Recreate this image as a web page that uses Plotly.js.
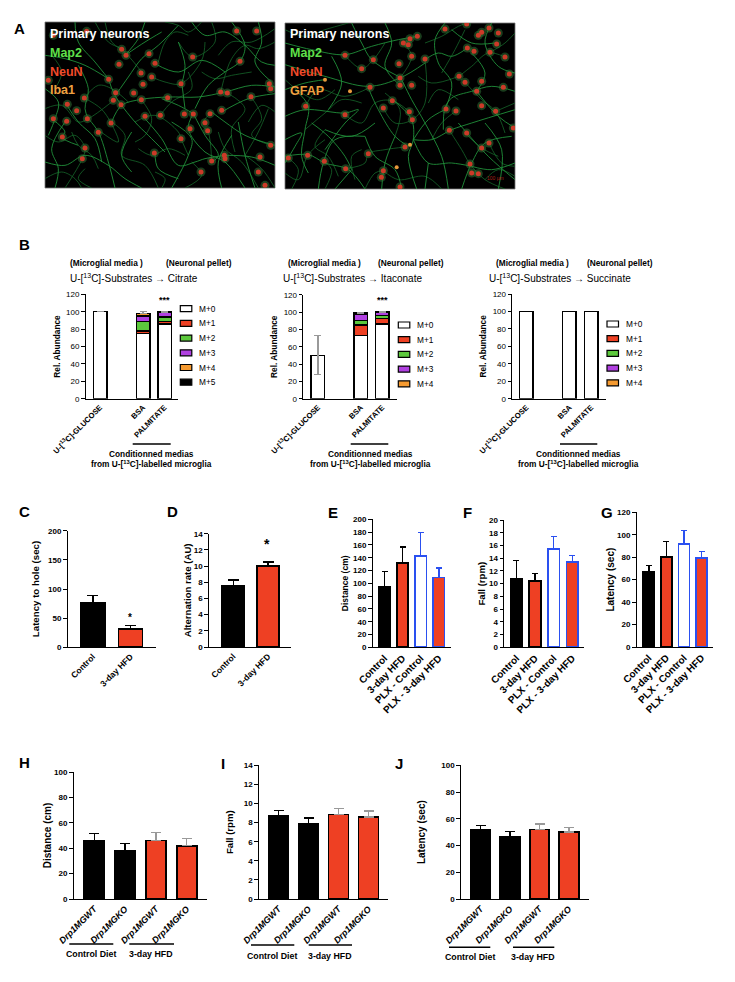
<!DOCTYPE html>
<html>
<head>
<meta charset="utf-8">
<script src="https://cdn.plot.ly/plotly-3.0.1.min.js"></script>
<style>
body { margin: 0; background: white; }
/* scatter traces only exist in the two micrographs: soften them a little */
.scatterlayer { filter: blur(0.6px); }
</style>
</head>
<body>
<div id="figure" style="width:735px;height:982px"></div>
<script>
// --- data ---
// panel A: cell bodies and traced neurites, in image coordinates (690 x 498)
var cellsLeftX = [575,635,230,243,312,443,585,222,330,288,320,191,408,294,10,212,266,527,547,673,677,118,368,205,289,618,228,67,95,530,495,418,445,346,25,127,300,480,65,198,488,435,160,52,408,120,677,328,112,538,500,540,468,640,645,660,125,25];
var cellsLeftY = [27,27,82,100,95,105,118,127,124,153,165,172,185,187,175,212,213,210,213,185,200,228,227,235,233,224,248,247,266,265,275,276,276,280,290,290,283,302,298,303,326,320,331,345,350,378,370,393,410,400,417,410,450,450,405,490,28,40];
var cellsRightX = [480,545,590,612,640,580,375,397,355,370,635,547,567,615,180,380,420,660,265,342,230,673,522,345,540,590,345,380,255,575,655,322,590,295,483,513,632,62,373,180,382,685,493,612,360,68,10,118,555,182,295,560,580,289,345,250,590,545];
var cellsRightY = [18,3,28,15,30,37,47,40,60,65,63,75,85,88,97,100,108,102,110,122,137,153,160,165,178,175,187,187,193,205,193,233,248,255,258,264,265,250,266,275,290,315,322,360,372,397,405,415,423,437,443,450,452,463,492,392,375,330];
var gfapCellsX = [195,120,335,375];
var gfapCellsY = [205,170,433,365];
var neuritesLeft = [
  [400,10,340,70,290,110,250,165,215,215],
  [440,0,480,40,540,30,600,70,650,120,690,130],
  [560,0,600,70,585,118,540,150,490,190,450,260],
  [690,195,620,190,540,210,460,225,370,225,290,232,230,250,200,300],
  [445,275,480,340,520,400,500,420],
  [445,275,400,250,350,230],
  [300,290,350,350,400,430,450,420,480,410,540,400],
  [0,420,60,430,120,400,190,430,240,470,290,498],
  [130,290,160,330,190,420,210,498],
  [60,240,100,300,150,350,170,420],
  [330,390,340,440,400,470],
  [20,290,60,330,50,345,100,370],
  [445,275,430,320,480,390,540,420,600,498],
  [500,270,540,300,600,340,690,370],
  [540,400,620,405,690,430],
  [410,180,420,260],
  [190,170,150,120,100,60,90,0],
  [190,170,210,220,270,300,310,340,360,390],
  [240,100,300,60,350,30],
  [330,125,400,150,470,115,540,150],
  [580,300,600,400,630,498],
  [530,270,610,230,690,215],
  [400,60,420,130,410,185],
  [0,200,40,240,30,290,10,340],
  [60,300,20,380,40,440,30,498],
  [100,130,130,200,120,260,130,290],
  [260,330,230,400,260,450],
  [640,0,650,60,630,120,680,180],
  [300,0,280,50,240,100],
  [0,100,60,110,120,130,190,170],
  [560,340,520,420,530,498],
  [380,300,440,350,430,400,380,498]
];
var faintLeft = [
  [150,0,190,60,230,82,290,150],
  [0,260,50,250,100,300,130,290,200,240],
  [0,340,40,360,90,340,120,378,112,410,60,498],
  [120,440,100,470,140,498],
  [200,300,240,340,230,400,300,430,340,498],
  [270,300,330,280,400,330,408,350,430,400],
  [320,165,360,180,408,185,470,115,480,60],
  [500,0,510,60,443,105,400,60],
  [690,60,640,80,600,70,560,110,527,210],
  [618,224,650,290,620,340,680,370],
  [495,275,470,310,488,326,500,417],
  [600,400,650,440,690,498],
  [547,213,600,260,560,320,570,390],
  [440,420,470,460,420,498],
  [168,330,220,360,198,303,168,260,118,228],
  [289,233,320,290,300,340,270,360],
  [346,280,380,240,440,200,430,150],
  [230,82,200,60,180,0],
  [20,100,50,150,30,200],
  [470,0,430,30,400,10,360,0],
  [670,260,640,330,600,400],
  [250,240,200,200,160,190,118,228],
  [520,330,540,380,590,420,640,498],
  [340,120,360,60,390,30,430,40],
  [0,470,50,450,90,470,110,498],
  [160,440,140,400,100,370,80,330],
  [280,380,320,400,370,380,420,400],
  [520,100,560,60,620,60,690,20],
  [470,150,510,170,560,160,620,150],
  [610,300,650,250,690,270],
  [330,450,360,470,350,498]
];
var neuritesRight = [
  [690,205,620,190,560,205,500,225,480,255,475,320],
  [480,0,450,50,460,120,500,180,480,260],
  [420,110,460,90,500,100,540,80],
  [0,125,120,160,250,190,345,165,420,120],
  [0,280,60,260,180,270,220,260,180,300,120,380],
  [0,350,50,330,30,370,0,420],
  [330,235,380,290,385,350,370,400,395,498],
  [250,195,280,260,330,340,370,370],
  [480,260,430,290,385,350],
  [690,260,560,300,500,320,440,350,385,350],
  [680,340,600,360,560,420,530,498],
  [0,400,70,395,120,420,190,440,240,498],
  [240,340,270,400,330,440,350,498],
  [80,300,130,340,180,400,200,440],
  [350,170,380,230,420,300,470,400,490,498],
  [200,0,230,60,260,110,340,160],
  [575,205,640,280,690,315],
  [560,90,600,150,575,205],
  [30,200,70,250,60,320,50,400,70,450],
  [270,300,200,340,120,320],
  [0,60,80,80,180,95,260,70,340,50,400,40],
  [520,300,610,400,690,470],
  [385,350,430,420,500,420,560,430],
  [100,498,115,420,150,350,240,340],
  [620,0,600,60,640,130,690,150],
  [300,0,320,60,300,130,345,187],
  [500,20,560,60,630,60],
  [560,430,620,440,690,420],
  [140,100,170,180,130,260],
  [430,420,420,498],
  [600,300,650,380,640,498],
  [0,200,60,180,120,170],
  [200,440,150,498],
  [330,340,300,420,290,498]
];
var faintRight = [
  [0,20,60,40,120,20,190,0],
  [62,250,100,200,180,220,255,193],
  [0,450,40,470,68,397,120,350],
  [120,498,140,440,118,415],
  [180,275,230,300,270,240,322,233,373,266],
  [295,255,330,300,382,290,420,240,420,108],
  [522,160,560,130,610,90,660,102],
  [540,178,590,230,632,265,660,330],
  [632,265,690,240],
  [493,322,530,380,555,423,600,470,660,498],
  [440,350,470,300,513,264],
  [612,360,650,420,690,430],
  [355,60,380,100,345,165],
  [180,97,230,137,265,110,300,60],
  [10,405,40,440,20,498],
  [182,437,240,420,250,392,300,380,360,372],
  [295,443,340,470,420,460,470,498],
  [60,320,120,270,170,230,230,240],
  [420,60,470,40,520,10,545,0],
  [615,88,660,60,690,30],
  [400,160,440,180,522,160],
  [300,210,345,260,330,340],
  [540,330,590,375,640,400],
  [240,498,270,450,295,443],
  [0,170,50,210,100,230,150,200],
  [120,320,90,370,130,400,160,460],
  [430,240,460,200,520,230],
  [600,470,640,440,690,460],
  [230,380,200,400,210,470],
  [540,20,510,80,470,150]
];

// panel B: stacked isotopologue fractions for U-13C glucose, BSA, palmitate
var isotopeLabels = ['M+0','M+1','M+2','M+3','M+4','M+5'];
var mediaLabels = ['U-[<sup>13</sup>C]-GLUCOSE','BSA','PALMITATE'];
var citrateM = [[100,75,86],[0,3,2.5],[0,11,5.5],[0,6,5],[0,2.7,0.4],[0,0.3,0.2]];
var citrateErr = [0.4,2.3,0.4];
var itaconateM = [[50,73,86],[0,12,6.5],[0,5.5,3.5],[0,6.5,3.5],[0,2,0.4]];
var itaconateErrUp = [22.5,0.5,0.4];
var itaconateErrDown = [22.5,0,0];
var succinateM = [[100,100,100],[0,0,0],[0,0,0],[0,0,0],[0,0,0]];
var succinateErr = [0.3,0.3,0.3];

// panels C-G
var dietLabels = ['Control','3-day HFD'];
var latencyHole = [76,31];
var latencyHoleErr = [13,6];
var alternation = [7.6,10];
var alternationErr = [0.7,0.5];
var plxLabels = ['Control','3-day HFD','PLX - Control','PLX - 3-day HFD'];
var plxDistance = [94,132,143,109];
var plxDistanceErr = [24,25,36,15];
var plxFall = [10.8,10.4,15.4,13.4];
var plxFallErr = [2.8,1.2,2,1];
var plxLatency = [67,80.5,91.5,79];
var plxLatencyErr = [5.5,13.5,12.5,6];

// panels H-J
var drpLabels = ['Drp1MGWT','Drp1MGKO','Drp1MGWT','Drp1MGKO'];
var drpDistance = [46,37.5,46,42];
var drpDistanceErr = [5.5,6,6.5,5.5];
var drpFall = [8.75,7.9,8.85,8.6];
var drpFallErr = [0.5,0.6,0.65,0.6];
var drpLatency = [52,46.5,52,50];
var drpLatencyErr = [3,4,4,3.5];

// --- style ---
var W = 735, H = 982;
var FONT = '"Liberation Sans", Arial, sans-serif';
var RED = '#ee4023', GREEN = '#5cc83c', PURPLE = '#b040e0', ORANGE = '#f59a30', BLUE = '#2a50f0', GREY = '#999999';
var isotopeColors = ['white',RED,GREEN,PURPLE,ORANGE,'black'];

var traces = [];
var layout = {
  width: W, height: H,
  margin: {l:0, r:0, t:0, b:0},
  showlegend: false,
  barmode: 'stack',
  paper_bgcolor: 'white',
  plot_bgcolor: 'white',
  font: {family: FONT, color: 'black'},
  annotations: [],
  shapes: []
};

function fx(p) { return p / W; }
function fy(p) { return 1 - p / H; }

function addText(x, y, text, size, bold, anchor, color) {
  layout.annotations.push({
    xref: 'paper', yref: 'paper', x: fx(x), y: fy(y),
    text: bold ? '<b>' + text + '</b>' : text,
    showarrow: false, xanchor: anchor || 'center', yanchor: 'middle',
    borderpad: 0, font: {family: FONT, size: size, color: color || 'black'}
  });
}

function addRule(x0, x1, y) {
  layout.shapes.push({type:'line', xref:'paper', yref:'paper', x0:fx(x0), x1:fx(x1), y0:fy(y), y1:fy(y), line:{color:'black', width:1.6}});
}

function addSwatch(x0, x1, y, color) {
  layout.shapes.push({type:'rect', xref:'paper', yref:'paper', x0:fx(x0), x1:fx(x1), y0:fy(y-3), y1:fy(y+3), fillcolor:color, line:{color:'black', width:1.2}});
}

function addAxes(n, box, yMax, dtick, tickvals, ticktext, yTitle, s) {
  var sp = box.step;
  layout['xaxis' + (n===1?'':n)] = {
    domain: [fx(box.left), fx(box.right)],
    range: [(box.left - box.first)/sp, (box.right - box.first)/sp],
    anchor: 'y' + (n===1?'':n),
    showgrid: false, zeroline: false, showline: true, linecolor: 'black', linewidth: 1.4,
    ticks: '', tickmode: 'array', tickvals: tickvals, ticktext: ticktext, tickangle: -45,
    tickfont: {family: FONT, size: s.xSize, weight: 'bold', style: s.xStyle || 'normal'}
  };
  layout['yaxis' + (n===1?'':n)] = {
    domain: [fy(box.bottom), fy(box.top)],
    range: [0, yMax], dtick: dtick,
    anchor: 'x' + (n===1?'':n),
    showgrid: false, zeroline: false, showline: true, linecolor: 'black', linewidth: 1.4,
    ticks: 'outside', ticklen: 3.5, tickwidth: 1.3, tickcolor: 'black',
    tickfont: {family: FONT, size: s.ySize, weight: s.yWeight || 'bold'},
    title: {text: yTitle, standoff: s.standoff, font: {family: FONT, size: s.titleSize, weight: 'bold'}}
  };
}

// single-value bars, one trace each because the error bar colour changes bar to bar
function addBars(n, values, errs, fills, lines, errColors, barPx, step, capPx) {
  var suffix = n===1 ? '' : n;
  values.forEach(function(v, i) {
    traces.push({
      type: 'bar', x: [i], y: [v], width: [barPx/step],
      xaxis: 'x'+suffix, yaxis: 'y'+suffix,
      marker: {color: fills[i], line: {color: lines[i], width: 1.8}},
      error_y: {type:'data', symmetric:false, array:[errs[i]], arrayminus:[0], color: errColors[i], thickness:1.4, width:capPx},
      hoverinfo: 'y'
    });
  });
}

// stacked isotopologue bars; error bars sit on the top segment
function addStacks(n, stacks, errUp, errDown, errColor, barPx, step) {
  var positions = [0,2,3];
  stacks.forEach(function(vals, k) {
    var t = {
      type: 'bar', x: positions, y: vals, width: barPx/step, name: isotopeLabels[k],
      xaxis: 'x'+n, yaxis: 'y'+n,
      marker: {color: isotopeColors[k], line: {color:'black', width:1.5}},
      hoverinfo: 'name+y'
    };
    if (k === stacks.length-1) {
      t.error_y = {type:'data', symmetric:false, array:errUp, arrayminus:errDown, color:errColor, thickness:1.2, width:3.5};
    }
    traces.push(t);
  });
}

function pathsToXY(paths) {
  var x = [], y = [];
  paths.forEach(function(path) {
    for (var i = 0; i < path.length; i += 2) { x.push(path[i]); y.push(path[i+1]); }
    x.push(null); y.push(null);
  });
  return {x:x, y:y};
}

function addImagePanel(n, box, neurites, faint, cellsX, cellsY) {
  var suffix = n===1 ? '' : n;
  layout['xaxis'+suffix] = {domain:[fx(box.left),fx(box.right)], range:[0,690], visible:false, anchor:'y'+suffix};
  layout['yaxis'+suffix] = {domain:[fy(box.bottom),fy(box.top)], range:[498,0], visible:false, anchor:'x'+suffix};
  layout.shapes.push({type:'rect', xref:'x'+suffix+' domain', yref:'y'+suffix+' domain', x0:0, x1:1, y0:0, y1:1, fillcolor:'black', line:{color:'#777', width:0.8}, layer:'below'});
  var dim = pathsToXY(faint);
  traces.push({type:'scatter', mode:'lines', x:dim.x, y:dim.y, xaxis:'x'+suffix, yaxis:'y'+suffix, hoverinfo:'skip',
    line:{color:'#15652a', width:0.8, shape:'spline', smoothing:1}});
  var main = pathsToXY(neurites);
  traces.push({type:'scatter', mode:'lines', x:main.x, y:main.y, xaxis:'x'+suffix, yaxis:'y'+suffix, hoverinfo:'skip',
    line:{color:'#20903a', width:0.9, shape:'spline', smoothing:1}});
  traces.push({type:'scatter', mode:'markers', x:cellsX, y:cellsY, xaxis:'x'+suffix, yaxis:'y'+suffix, hoverinfo:'skip',
    marker:{size:9, color:'rgba(50,120,55,0.5)', line:{width:0}}});
  traces.push({type:'scatter', mode:'markers', x:cellsX, y:cellsY, xaxis:'x'+suffix, yaxis:'y'+suffix, hoverinfo:'skip',
    marker:{size:5, color:'#cc3a28', line:{width:0}}});
}

// --- panel A ---
addImagePanel(1, {left:45, right:275, top:22, bottom:188}, neuritesLeft, faintLeft, cellsLeftX, cellsLeftY);
addImagePanel(2, {left:285, right:515, top:23, bottom:189}, neuritesRight, faintRight, cellsRightX, cellsRightY);
traces.push({type:'scatter', mode:'markers', x:gfapCellsX, y:gfapCellsY, xaxis:'x2', yaxis:'y2', hoverinfo:'skip', marker:{size:4, color:'#e89a3c', line:{width:0}}});
var labelColors = ['white','#5fe04a','#f04a2a','#f0a040'];
['Primary neurons','Map2','NeuN','Iba1'].forEach(function(t, i) { addText(49, [33.7,52.7,72,90.3][i], t, 12.5, true, 'left', labelColors[i]); });
['Primary neurons','Map2','NeuN','GFAP'].forEach(function(t, i) { addText(289, [34,53,72,90.7][i], t, 12.5, true, 'left', labelColors[i]); });
addText(495, 178, '100 µm', 5, false, 'center', '#a82018');

// --- panel B ---
var styleB = {xSize:7.7, ySize:8, yWeight:'normal', titleSize:8.3, standoff:4};
var boxB = [
  {left:85.7, right:178.3, top:294.3, bottom:398.7, first:100, step:21.5},
  {left:303.3, right:396.7, top:294.7, bottom:398.7, first:318, step:21.4},
  {left:512.3, right:605.7, top:294, bottom:398.7, first:526.3, step:21.6}
];
var stacksB = [citrateM, itaconateM, succinateM];
var productNames = ['Citrate','Itaconate','Succinate'];
var headerX = [[106,199.3],[324,410.7],[532.7,619.7]];
var formulaX = [69.3,282.3,488.3];
var ruleB = [[132.7,170.7,151.7],[350.7,388.3,370],[560,597.3,578.7]];
var swatchX = [180.3,398.3,607];
var legendTop = [308.7,325,324];
boxB.forEach(function(box, i) {
  addAxes(3+i, box, 120, 20, [0,2,3], mediaLabels, 'Rel. Abundance', styleB);
  addText(headerX[i][0], 263, '(Microglial media )', 8.3, true);
  addText(headerX[i][1], 262.7, '(Neuronal pellet)', 8.3, true);
  addText(formulaX[i], 278, 'U-[<sup>13</sup>C]-Substrates <b>→</b> ' + productNames[i], 10, false, 'left');
  addRule(ruleB[i][0], ruleB[i][1], 444);
  addText(ruleB[i][2], 453.6, 'Conditionned medias', 8.3, true);
  addText(ruleB[i][2], 464.4, 'from U-[<sup>13</sup>C]-labelled microglia', 8.3, true);
  stacksB[i].forEach(function(vals, k) {
    var yy = legendTop[i] + k*14.7;
    addSwatch(swatchX[i], swatchX[i]+11.5, yy, isotopeColors[k]);
    addText(swatchX[i]+17.5, yy, isotopeLabels[k], 8.3, false, 'left');
  });
});
addStacks(3, citrateM, citrateErr, [0,0,0], GREY, 13.5, 21.5);
addStacks(4, itaconateM, itaconateErrUp, itaconateErrDown, GREY, 13.5, 21.4);
addStacks(5, succinateM, succinateErr, [0,0,0], 'black', 13.5, 21.6);
addText(164.7, 300, '***', 9, true);
addText(382.3, 300, '***', 9, true);

// --- panels C, D ---
addAxes(6, {left:67.7, right:155.7, top:530.7, bottom:647.3, first:92.8, step:37.7}, 200, 50, [0,1], dietLabels, 'Latency to hole (sec)',
  {xSize:8.5, ySize:8, titleSize:9.7, standoff:6});
addBars(6, latencyHole, latencyHoleErr, ['black',RED], ['black','black'], ['black','black'], 24, 37.7, 5.5);
addAxes(7, {left:209, right:290.7, top:533.7, bottom:647, first:233.2, step:34.8}, 14, 2, [0,1], dietLabels, 'Alternation rate (AU)',
  {xSize:8.5, ySize:8, titleSize:9.6, standoff:0});
addBars(7, alternation, alternationErr, ['black',RED], ['black','black'], ['black','black'], 22, 34.8, 5.5);
addText(130.3, 617, '*', 10, true);
addText(266.7, 544, '*', 14, true);

// --- panels E, F, G ---
var plxFills = ['black',RED,'white',RED];
var plxLines = ['black','black',BLUE,BLUE];
var plxErrors = ['black','black',BLUE,BLUE];
addAxes(8, {left:372.7, right:450.7, top:519.3, bottom:647.3, first:384.5, step:18.1}, 200, 20, [0,1,2,3], plxLabels, 'Distance (cm)',
  {xSize:10, ySize:8, titleSize:8.5, standoff:3});
addBars(8, plxDistance, plxDistanceErr, plxFills, plxLines, plxErrors, 11.5, 18.1, 3);
addAxes(9, {left:504.3, right:583.7, top:520, bottom:647.3, first:516.5, step:18.6}, 20, 2, [0,1,2,3], plxLabels, 'Fall (rpm)',
  {xSize:10, ySize:8, titleSize:9.6, standoff:1.5});
addBars(9, plxFall, plxFallErr, plxFills, plxLines, plxErrors, 11.5, 18.6, 3);
addAxes(10, {left:636.7, right:713.3, top:512.3, bottom:647, first:648.8, step:17.6}, 120, 20, [0,1,2,3], plxLabels, 'Latency (sec)',
  {xSize:10, ySize:8, titleSize:10, standoff:0});
addBars(10, plxLatency, plxLatencyErr, plxFills, plxLines, plxErrors, 11, 17.6, 3);

// --- panels H, I, J ---
var drpFills = ['black','black',RED,RED];
var drpLines = ['black','black','black','black'];
var drpErrors = ['black','black',GREY,GREY];
addAxes(11, {left:73.7, right:206.7, top:772, bottom:899, first:94.3, step:30.8}, 100, 20, [0,1,2,3], drpLabels, 'Distance (cm)',
  {xSize:9, xStyle:'italic', ySize:8, titleSize:10, standoff:0});
addBars(11, drpDistance, drpDistanceErr, drpFills, drpLines, drpErrors, 20, 30.8, 5);
addAxes(12, {left:259, right:388.3, top:765.3, bottom:899, first:278.5, step:30}, 14, 2, [0,1,2,3], drpLabels, 'Fall (rpm)',
  {xSize:9, xStyle:'italic', ySize:8, titleSize:9.6, standoff:8});
addBars(12, drpFall, drpFallErr, drpFills, drpLines, drpErrors, 20, 30, 5);
addAxes(13, {left:461, right:589, top:765.3, bottom:899, first:480.7, step:29.4}, 100, 20, [0,1,2,3], drpLabels, 'Latency (sec)',
  {xSize:9, xStyle:'italic', ySize:8, titleSize:10, standoff:13});
addBars(13, drpLatency, drpLatencyErr, drpFills, drpLines, drpErrors, 19.5, 29.4, 5);

addRule(69.3,113.3,944); addRule(129.3,174,944);
addText(91.3,954.3,'Control Diet',8.8,true); addText(151,954.3,'3-day HFD',8.8,true);
addRule(251,294.3,945); addRule(308.7,352,945);
addText(271.7,955.7,'Control Diet',8.8,true); addText(330,955.7,'3-day HFD',8.8,true);
addRule(449,490.3,947.3); addRule(513,554.3,947.3);
addText(470,957.3,'Control Diet',8.8,true); addText(533,957.3,'3-day HFD',8.8,true);

// panel letters
var panelLetters = ['A','B','C','D','E','F','G','H','I','J'];
var letterX = [19.3,24,24,172.3,333.3,467.7,606.7,24.7,223,399];
var letterY = [29,244.3,512,512,512.3,512.3,512.3,762.3,763.3,763.3];
panelLetters.forEach(function(l, i) { addText(letterX[i], letterY[i], l, 15, true); });

Plotly.newPlot('figure', traces, layout, {displayModeBar:false});
</script>
</body>
</html>
